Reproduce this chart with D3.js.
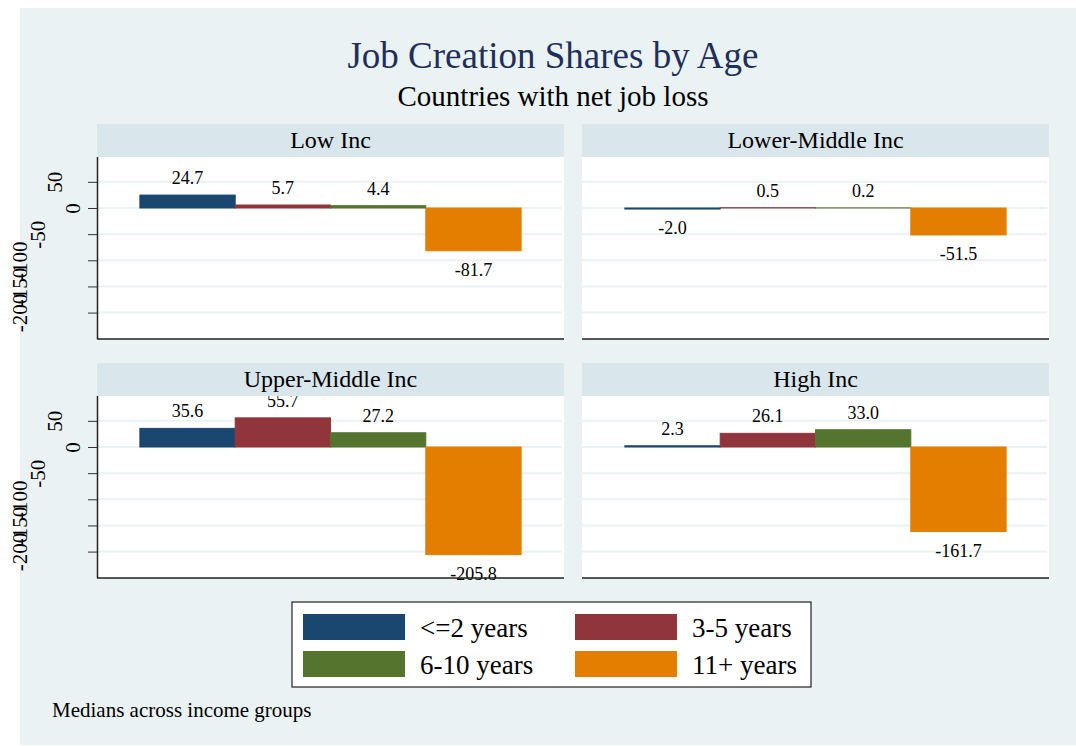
<!DOCTYPE html>
<html lang="en">
  <head>
    <meta charset="UTF-8" />
    <title>Job Creation Shares by Age</title>
    <style>
      body { margin: 0; background: #fff; }
      text { font-family: "Liberation Serif", "Times New Roman", serif; }
    </style>
  </head>
  <body>
    <svg width="1076" height="746"></svg>
    <script src="https://cdnjs.cloudflare.com/ajax/libs/d3/7.8.5/d3.min.js"></script>
    <script>
      var groups = ["Low Inc", "Lower-Middle Inc", "Upper-Middle Inc", "High Inc"];
      var ages = ["<=2 years", "3-5 years", "6-10 years", "11+ years"];
      var lowInc = [24.7, 5.7, 4.4, -81.7];
      var lowerMiddleInc = [-2.0, 0.5, 0.2, -51.5];
      var upperMiddleInc = [35.6, 55.7, 27.2, -205.8];
      var highInc = [2.3, 26.1, 33.0, -161.7];
      var yTicks = [50, 0, -50, -100, -150, -200];

      var series = [lowInc, lowerMiddleInc, upperMiddleInc, highInc];
      var colors = ["#1a476f", "#90353b", "#55752f", "#e37e00"];

      // plain hyphen for negatives, like the original
      var locale = d3.formatLocale({ decimal: ".", thousands: ",", grouping: [3], currency: ["", ""], minus: "-" });
      var fmt = locale.format(".1f");
      var fmtTick = locale.format("d");

      var svg = d3.select("svg");

      svg.append("rect")
        .attr("x", 20).attr("y", 8)
        .attr("width", 1056).attr("height", 737)
        .attr("fill", "#eaf2f3");

      svg.append("text")
        .attr("x", 553).attr("y", 68)
        .attr("text-anchor", "middle")
        .attr("font-size", 37)
        .attr("fill", "#1e2f5b")
        .text("Job Creation Shares by Age");

      svg.append("text")
        .attr("x", 553).attr("y", 106)
        .attr("text-anchor", "middle")
        .attr("font-size", 29)
        .attr("fill", "#000")
        .text("Countries with net job loss");

      var panelX = [97, 582];
      var panelY = [124, 363];
      var pw = 467, headH = 33, ph = 182;

      var x = d3.scaleBand().domain(ages).range([0, pw]).paddingInner(0).paddingOuter(0.45);
      var y = d3.scaleLinear().domain([-250.5, 97.5]).range([ph, 0]);

      groups.forEach(function (name, i) {
        var col = i % 2, row = Math.floor(i / 2);
        var g = svg.append("g")
          .attr("transform", "translate(" + panelX[col] + "," + (panelY[row] + headH) + ")");

        g.append("rect")
          .attr("width", pw).attr("height", ph)
          .attr("fill", "#fff");

        g.selectAll("line.grid")
          .data(yTicks)
          .enter()
          .append("line")
          .attr("class", "grid")
          .attr("x1", 0).attr("x2", pw - 2)
          .attr("y1", function (d) { return y(d); })
          .attr("y2", function (d) { return y(d); })
          .attr("stroke", "#eaf2f3")
          .attr("stroke-width", 2);

        var vals = series[i];
        g.selectAll("rect.bar")
          .data(vals)
          .enter()
          .append("rect")
          .attr("class", "bar")
          .attr("x", function (d, j) { return x(ages[j]); })
          .attr("width", x.bandwidth())
          .attr("y", function (d) { return y(Math.max(0, d)); })
          .attr("height", function (d) { return Math.abs(y(d) - y(0)); })
          .attr("fill", function (d, j) { return colors[j]; })
          .attr("stroke", function (d, j) { return colors[j]; })
          .attr("stroke-width", 1);

        g.selectAll("text.val")
          .data(vals)
          .enter()
          .append("text")
          .attr("class", "val")
          .attr("x", function (d, j) { return x(ages[j]) + x.bandwidth() / 2; })
          .attr("y", function (d) { return d >= 0 ? y(d) - 11 : y(d) + 25; })
          .attr("text-anchor", "middle")
          .attr("font-size", 18)
          .text(function (d) { return fmt(d); });

        g.append("line")
          .attr("x1", 0).attr("x2", pw)
          .attr("y1", ph).attr("y2", ph)
          .attr("stroke", "#222").attr("stroke-width", 1.5);

        if (col === 0) {
          var axis = g.append("g")
            .call(d3.axisLeft(y).tickValues(yTicks).tickSize(9).tickFormat(fmtTick));
          axis.select(".domain").remove();
          axis.append("line")
            .attr("x1", 0.5).attr("x2", 0.5)
            .attr("y1", 0).attr("y2", ph)
            .attr("stroke", "#222").attr("stroke-width", 1.5);
          axis.selectAll(".tick line").attr("stroke", "#333");
          axis.selectAll(".tick text")
            .attr("x", null).attr("dy", null)
            .attr("font-family", "Liberation Serif, Times New Roman, serif")
            .attr("font-size", 21)
            .attr("fill", "#000")
            .attr("text-anchor", "middle")
            .attr("dominant-baseline", "central")
            .attr("transform", function (d) {
              var len = fmtTick(d).length;
              return "translate(" + (-7 - 17.5 * len) + ",0) rotate(-90)";
            });
        }

        // header strip drawn last so it covers labels that run into it
        var hx = panelX[col], hy = panelY[row];
        svg.append("rect")
          .attr("x", hx).attr("y", hy)
          .attr("width", pw).attr("height", headH)
          .attr("fill", "#d9e6eb");
        svg.append("text")
          .attr("x", hx + pw / 2).attr("y", hy + 24)
          .attr("text-anchor", "middle")
          .attr("font-size", 24)
          .text(name);
      });

      var legend = svg.append("g").attr("transform", "translate(292,602)");
      legend.append("rect")
        .attr("width", 519).attr("height", 85)
        .attr("fill", "#fff")
        .attr("stroke", "#222").attr("stroke-width", 1.2);

      var items = legend.selectAll("g.item")
        .data(ages)
        .enter()
        .append("g")
        .attr("class", "item")
        .attr("transform", function (d, j) {
          return "translate(" + (11 + (j % 2) * 272) + "," + (12 + Math.floor(j / 2) * 37) + ")";
        });
      items.append("rect")
        .attr("width", 102).attr("height", 26)
        .attr("fill", function (d, j) { return colors[j]; });
      items.append("text")
        .attr("x", 117).attr("y", 23)
        .attr("font-size", 27)
        .text(function (d) { return d; });

      svg.append("text")
        .attr("x", 52).attr("y", 717)
        .attr("font-size", 21)
        .text("Medians across income groups");
    </script>
  </body>
</html>
